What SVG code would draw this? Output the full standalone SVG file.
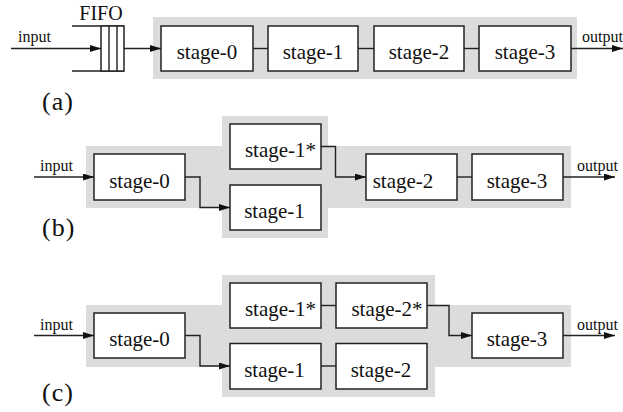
<svg xmlns="http://www.w3.org/2000/svg" width="623" height="412" viewBox="0 0 623 412">
  <defs>
    <marker id="arrow" markerUnits="userSpaceOnUse" markerWidth="12" markerHeight="8" refX="11" refY="3.5" orient="auto">
      <path d="M0,0 L11,3.5 L0,7 Z" fill="#111"/>
    </marker>
    <style>
      .bg { fill: #dcdcdc; stroke: none; }
      .box { fill: #fff; stroke: #222; stroke-width: 1.5; }
      .wire { fill: none; stroke: #222; stroke-width: 1.4; }
      .arr { marker-end: url(#arrow); }
    </style>
  </defs>

  <!-- shaded pipeline regions -->
  <g id="regions">
    <rect class="bg" x="153" y="17" width="424" height="62"/>
    <path class="bg" d="M86,146 H222 V116 H328 V146 H571 V208 H328 V238 H222 V208 H86 Z"/>
    <path class="bg" d="M86,305 H222 V275 H435 V305 H571 V367 H435 V397 H222 V367 H86 Z"/>
  </g>

  <!-- connectors -->
  <g id="connectors">
    <!-- (a) -->
    <path class="wire arr" d="M11,48.5 H101"/>
    <path class="wire arr" d="M124,48.5 H161"/>
    <path class="wire" d="M253,48.5 H268"/>
    <path class="wire" d="M358,48.5 H374"/>
    <path class="wire" d="M464,48.5 H479"/>
    <path class="wire arr" d="M571,48.5 H623"/>
    <!-- (b) -->
    <path class="wire arr" d="M34,177 H94"/>
    <path class="wire arr" d="M185,177 H200 V207.5 H230"/>
    <path class="wire arr" d="M321,146.5 H335.5 V177 H366"/>
    <path class="wire" d="M457,177 H472"/>
    <path class="wire arr" d="M563,177 H615"/>
    <!-- (c) -->
    <path class="wire arr" d="M34,335.5 H94"/>
    <path class="wire arr" d="M185,335.5 H200 V366 H230"/>
    <path class="wire" d="M321,305.5 H336"/>
    <path class="wire" d="M321,366 H336"/>
    <path class="wire arr" d="M427,305.5 H449 V335.5 H472"/>
    <path class="wire arr" d="M563,335.5 H615"/>
  </g>

  <!-- (a) FIFO buffer -->
  <g id="fifo">
    <path class="wire" d="M72,26 H124 M72,71 H124"/>
    <rect class="box" x="101" y="26" width="23" height="45"/>
    <path class="wire" d="M109,26 V71 M117,26 V71"/>
    <text x="101" y="20" font-family="Liberation Serif, serif" font-size="20" fill="#111" text-anchor="middle">FIFO</text>
  </g>

  <!-- stage boxes -->
  <g font-family="Liberation Serif, serif" font-size="21" fill="#111" text-anchor="middle">
    <!-- (a) -->
    <g id="a-stage0"><rect class="box" x="161" y="26" width="92" height="45"/><text x="207" y="59">stage-0</text></g>
    <g id="a-stage1"><rect class="box" x="268" y="26" width="90" height="45"/><text x="313" y="59">stage-1</text></g>
    <g id="a-stage2"><rect class="box" x="374" y="26" width="90" height="45"/><text x="419" y="59">stage-2</text></g>
    <g id="a-stage3"><rect class="box" x="479" y="26" width="92" height="45"/><text x="525" y="59">stage-3</text></g>

    <!-- (b) -->
    <g id="b-stage0"><rect class="box" x="94" y="154" width="91" height="46"/><text x="139.5" y="187.5">stage-0</text></g>
    <g id="b-stage1s"><rect class="box" x="230" y="124" width="91" height="45"/><text x="280.5" y="157">stage-1*</text></g>
    <g id="b-stage1"><rect class="box" x="230" y="185" width="91" height="45"/><text x="274.5" y="218">stage-1</text></g>
    <g id="b-stage2"><rect class="box" x="366" y="154" width="91" height="46"/><text x="403" y="187.5">stage-2</text></g>
    <g id="b-stage3"><rect class="box" x="472" y="154" width="91" height="46"/><text x="517" y="187.5">stage-3</text></g>

    <!-- (c) -->
    <g id="c-stage0"><rect class="box" x="94" y="313" width="91" height="45"/><text x="139.5" y="346">stage-0</text></g>
    <g id="c-stage1s"><rect class="box" x="230" y="283" width="91" height="45"/><text x="280.5" y="316">stage-1*</text></g>
    <g id="c-stage1"><rect class="box" x="230" y="343.5" width="91" height="45.5"/><text x="274.5" y="376.5">stage-1</text></g>
    <g id="c-stage2s"><rect class="box" x="336" y="283" width="91" height="45"/><text x="387" y="316">stage-2*</text></g>
    <g id="c-stage2"><rect class="box" x="336" y="343.5" width="91" height="45.5"/><text x="381" y="376.5">stage-2</text></g>
    <g id="c-stage3"><rect class="box" x="472" y="313" width="91" height="45"/><text x="517" y="346">stage-3</text></g>
  </g>

  <!-- input / output labels -->
  <g id="io-labels" font-family="Liberation Serif, serif" font-size="16" fill="#111">
    <text x="18" y="42">input</text>
    <text x="582" y="42">output</text>
    <text x="40" y="171">input</text>
    <text x="577" y="171">output</text>
    <text x="40" y="329.5">input</text>
    <text x="577" y="329.5">output</text>
  </g>

  <!-- panel captions -->
  <g id="captions" font-family="Liberation Serif, serif" font-size="26" fill="#111" letter-spacing="1">
    <text x="42" y="110">(a)</text>
    <text x="42" y="236">(b)</text>
    <text x="42" y="401">(c)</text>
  </g>
</svg>
